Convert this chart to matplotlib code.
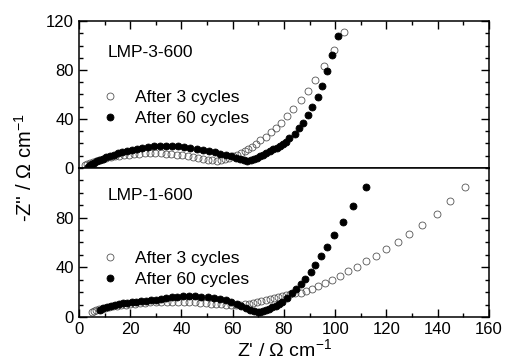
import matplotlib
matplotlib.use("Agg")
import matplotlib.pyplot as plt
from matplotlib.ticker import MultipleLocator, FixedLocator

plt.rcParams['font.family'] = ['Liberation Sans', 'DejaVu Sans']
plt.rcParams['mathtext.default'] = 'regular'

# LMP-3-600 impedance data (Z', -Z'')
z3_a_re = [2.3, 3.2, 4.2, 5.3, 6.5, 7.8, 9.2, 10.7, 12.3, 14.0, 15.8, 17.6, 19.5, 21.5,
           23.5, 25.6, 27.7, 29.8, 31.9, 34.0, 36.1, 38.2, 40.3, 42.4, 44.4, 46.4, 48.3,
           50.2, 52.0, 53.8, 55.5, 57.1, 58.6, 60.1, 61.6, 63.1, 64.6, 66.1, 67.5, 68.9,
           70.6, 72.9, 74.8, 77.0, 78.7, 81.3, 83.6, 86.5, 89.2, 92.2, 95.6, 99.5, 103.5]
z3_a_im = [2.4, 3.2, 4.0, 4.8, 5.6, 6.4, 7.2, 8.0, 8.7, 9.4, 10.0, 10.5, 11.0, 11.4,
           11.7, 11.9, 12.0, 12.0, 11.9, 11.6, 11.3, 10.8, 10.3, 9.6, 8.9, 8.1, 7.3,
           6.7, 6.3, 6.1, 6.4, 7.2, 8.3, 9.5, 10.8, 12.2, 13.7, 15.3, 17.3, 19.6,
           22.9, 25.6, 29.1, 32.9, 36.7, 42.2, 48.2, 55.3, 62.9, 72.1, 83.0, 96.3, 111.3]
z3_b_re = [3.6, 4.3, 5.1, 6.0, 7.0, 8.1, 9.3, 10.6, 12.0, 13.5, 15.1, 16.8, 18.6, 20.5,
           22.5, 24.6, 26.8, 29.1, 31.5, 33.9, 36.3, 38.7, 41.1, 43.5, 45.9, 48.3, 50.6,
           52.9, 55.1, 57.2, 59.2, 61.1, 62.8, 64.3, 65.7, 67.0, 68.2, 69.4, 70.6, 71.8,
           73.1, 74.5, 75.8, 77.2, 78.6, 79.8, 80.8, 82.1, 84.3, 86.0, 87.5, 89.4, 91.1,
           93.4, 95.0, 96.6, 98.9, 101.2]
z3_b_im = [1.0, 2.2, 3.3, 4.4, 5.5, 6.6, 7.7, 8.8, 9.9, 11.0, 12.1, 13.1, 14.1, 15.0,
           15.9, 16.6, 17.2, 17.7, 18.0, 18.1, 18.0, 17.7, 17.1, 16.4, 15.6, 14.7, 13.8,
           12.8, 11.8, 10.6, 9.4, 8.2, 7.2, 6.4, 6.1, 6.4, 7.3, 8.4, 9.7, 11.0,
           12.3, 14.1, 15.2, 16.6, 18.2, 19.8, 21.5, 24.7, 28.0, 32.4, 37.0, 43.0, 50.0,
           57.7, 67.2, 79.2, 92.2, 107.8]

# LMP-1-600 impedance data (Z', -Z'')
z1_a_re = [4.9, 5.8, 6.8, 7.8, 9.0, 10.3, 11.7, 13.2, 14.8, 16.5, 18.2, 20.0, 21.9, 23.8,
           25.8, 27.8, 29.9, 32.0, 34.2, 36.4, 38.6, 40.8, 43.0, 45.2, 47.4, 49.5, 51.6,
           53.6, 55.6, 57.5, 59.4, 61.2, 63.0, 64.7, 66.4, 68.0, 69.6, 71.2, 72.8, 74.4,
           76.0, 77.6, 79.2, 80.8, 82.4, 84.3, 86.5, 88.6, 91.0, 93.4, 96.0, 98.9, 101.9,
           105.1, 108.6, 112.0, 115.9, 120.0, 124.4, 128.9, 134.0, 139.8, 144.8, 150.6]
z1_a_im = [4.3, 4.8, 5.4, 6.1, 6.7, 7.3, 7.9, 8.5, 9.0, 9.5, 10.0, 10.4, 10.8, 11.2,
           11.5, 11.8, 12.0, 12.2, 12.3, 12.4, 12.4, 12.3, 12.1, 11.8, 11.5, 11.1, 10.7,
           10.4, 10.1, 9.9, 9.8, 9.8, 10.0, 10.3, 10.8, 11.4, 12.1, 12.9, 13.7, 14.6,
           15.5, 16.4, 17.2, 17.9, 18.5, 19.0, 19.5, 21.1, 22.9, 24.8, 27.2, 30.1, 33.1,
           36.8, 40.3, 44.8, 49.1, 54.4, 60.3, 66.9, 74.4, 82.9, 93.1, 104.8]
z1_b_re = [8.2, 9.5, 11.0, 12.5, 14.0, 15.6, 17.2, 18.9, 20.6, 22.4, 24.2, 26.1, 28.0,
           30.0, 32.0, 34.1, 36.2, 38.4, 40.7, 43.0, 45.4, 47.8, 50.2, 52.6, 55.0, 57.3,
           59.5, 61.5, 63.4, 65.2, 66.9, 68.4, 69.7, 70.8, 71.9, 73.0, 74.2, 75.5, 76.8,
           78.0, 79.1, 81.0, 83.0, 84.7, 86.5, 88.3, 90.4, 92.2, 94.4, 96.7, 99.5, 102.9,
           106.8, 112.0]
z1_b_im = [6.0, 7.0, 8.0, 8.8, 9.6, 10.3, 10.9, 11.4, 11.9, 12.3, 12.7, 13.1, 13.5,
           14.0, 14.6, 15.2, 15.8, 16.3, 16.6, 16.8, 16.8, 16.5, 16.1, 15.5, 14.6, 13.4,
           11.9, 10.3, 8.7, 7.2, 5.8, 4.8, 4.2, 4.1, 4.6, 5.5, 6.6, 7.8, 9.0,
           10.5, 12.3, 15.5, 19.0, 22.9, 26.9, 30.9, 36.3, 42.1, 48.8, 56.5, 66.1, 76.8,
           89.1, 104.3]

fig = plt.figure(figsize=(5.05, 3.64), dpi=100)
ax1 = fig.add_axes([0.1564, 0.5385, 0.8119, 0.4038])
ax2 = fig.add_axes([0.1564, 0.1291, 0.8119, 0.4094])

open_style = dict(ls='none', marker='o', ms=5.0, mfc='none', mec='#555555', mew=0.6)
fill_style = dict(ls='none', marker='o', ms=5.0, mfc='black', mec='black', mew=0.6)

panels = [(ax1, 'LMP-3-600', 0.785, z3_a_re, z3_a_im, z3_b_re, z3_b_im, 0.41),
          (ax2, 'LMP-1-600', 0.815, z1_a_re, z1_a_im, z1_b_re, z1_b_im, 0.321)]

for ax, name, ny, ar, ai, br, bi, ly in panels:
    h1, = ax.plot(ar, ai, label='After 3 cycles', **open_style)
    h2, = ax.plot(br, bi, label='After 60 cycles', **fill_style)
    ax.set_xlim(0, 160)
    ax.set_ylim(0, 120)
    ax.xaxis.set_major_locator(MultipleLocator(20))
    ax.xaxis.set_minor_locator(MultipleLocator(10))
    ax.yaxis.set_minor_locator(MultipleLocator(10))
    ax.tick_params(which='both', direction='in', right=True, labelsize=12, width=1.0)
    ax.tick_params(which='major', length=5.5)
    ax.tick_params(which='minor', length=3)
    for s in ax.spines.values():
        s.set_linewidth(1.1)
    ax.text(0.0707, ny, name, transform=ax.transAxes,
            fontsize=12.5, va='center', ha='left')
    ax.legend(handles=[h1, h2], loc='center left', bbox_to_anchor=(0.054, ly),
              frameon=False, fontsize=12.5, handlelength=1.0, handletextpad=0.94,
              borderpad=0, borderaxespad=0, labelspacing=0.36)

ax1.yaxis.set_major_locator(FixedLocator([0, 40, 80, 120]))
ax1.tick_params(axis='x', which='both', top=True, bottom=False, labelbottom=False)
ax2.yaxis.set_major_locator(FixedLocator([0, 40, 80]))
ax2.tick_params(axis='x', which='both', top=False, bottom=True)

ax2.set_xlabel("Z' / \u03a9 cm$^{-1}$", fontsize=14, labelpad=1)
fig.text(0.05, 0.5385, "-Z'' / \u03a9 cm$^{-1}$", rotation=90, fontsize=14.5,
         ha='center', va='center')

fig.savefig('out.png', dpi=100)
